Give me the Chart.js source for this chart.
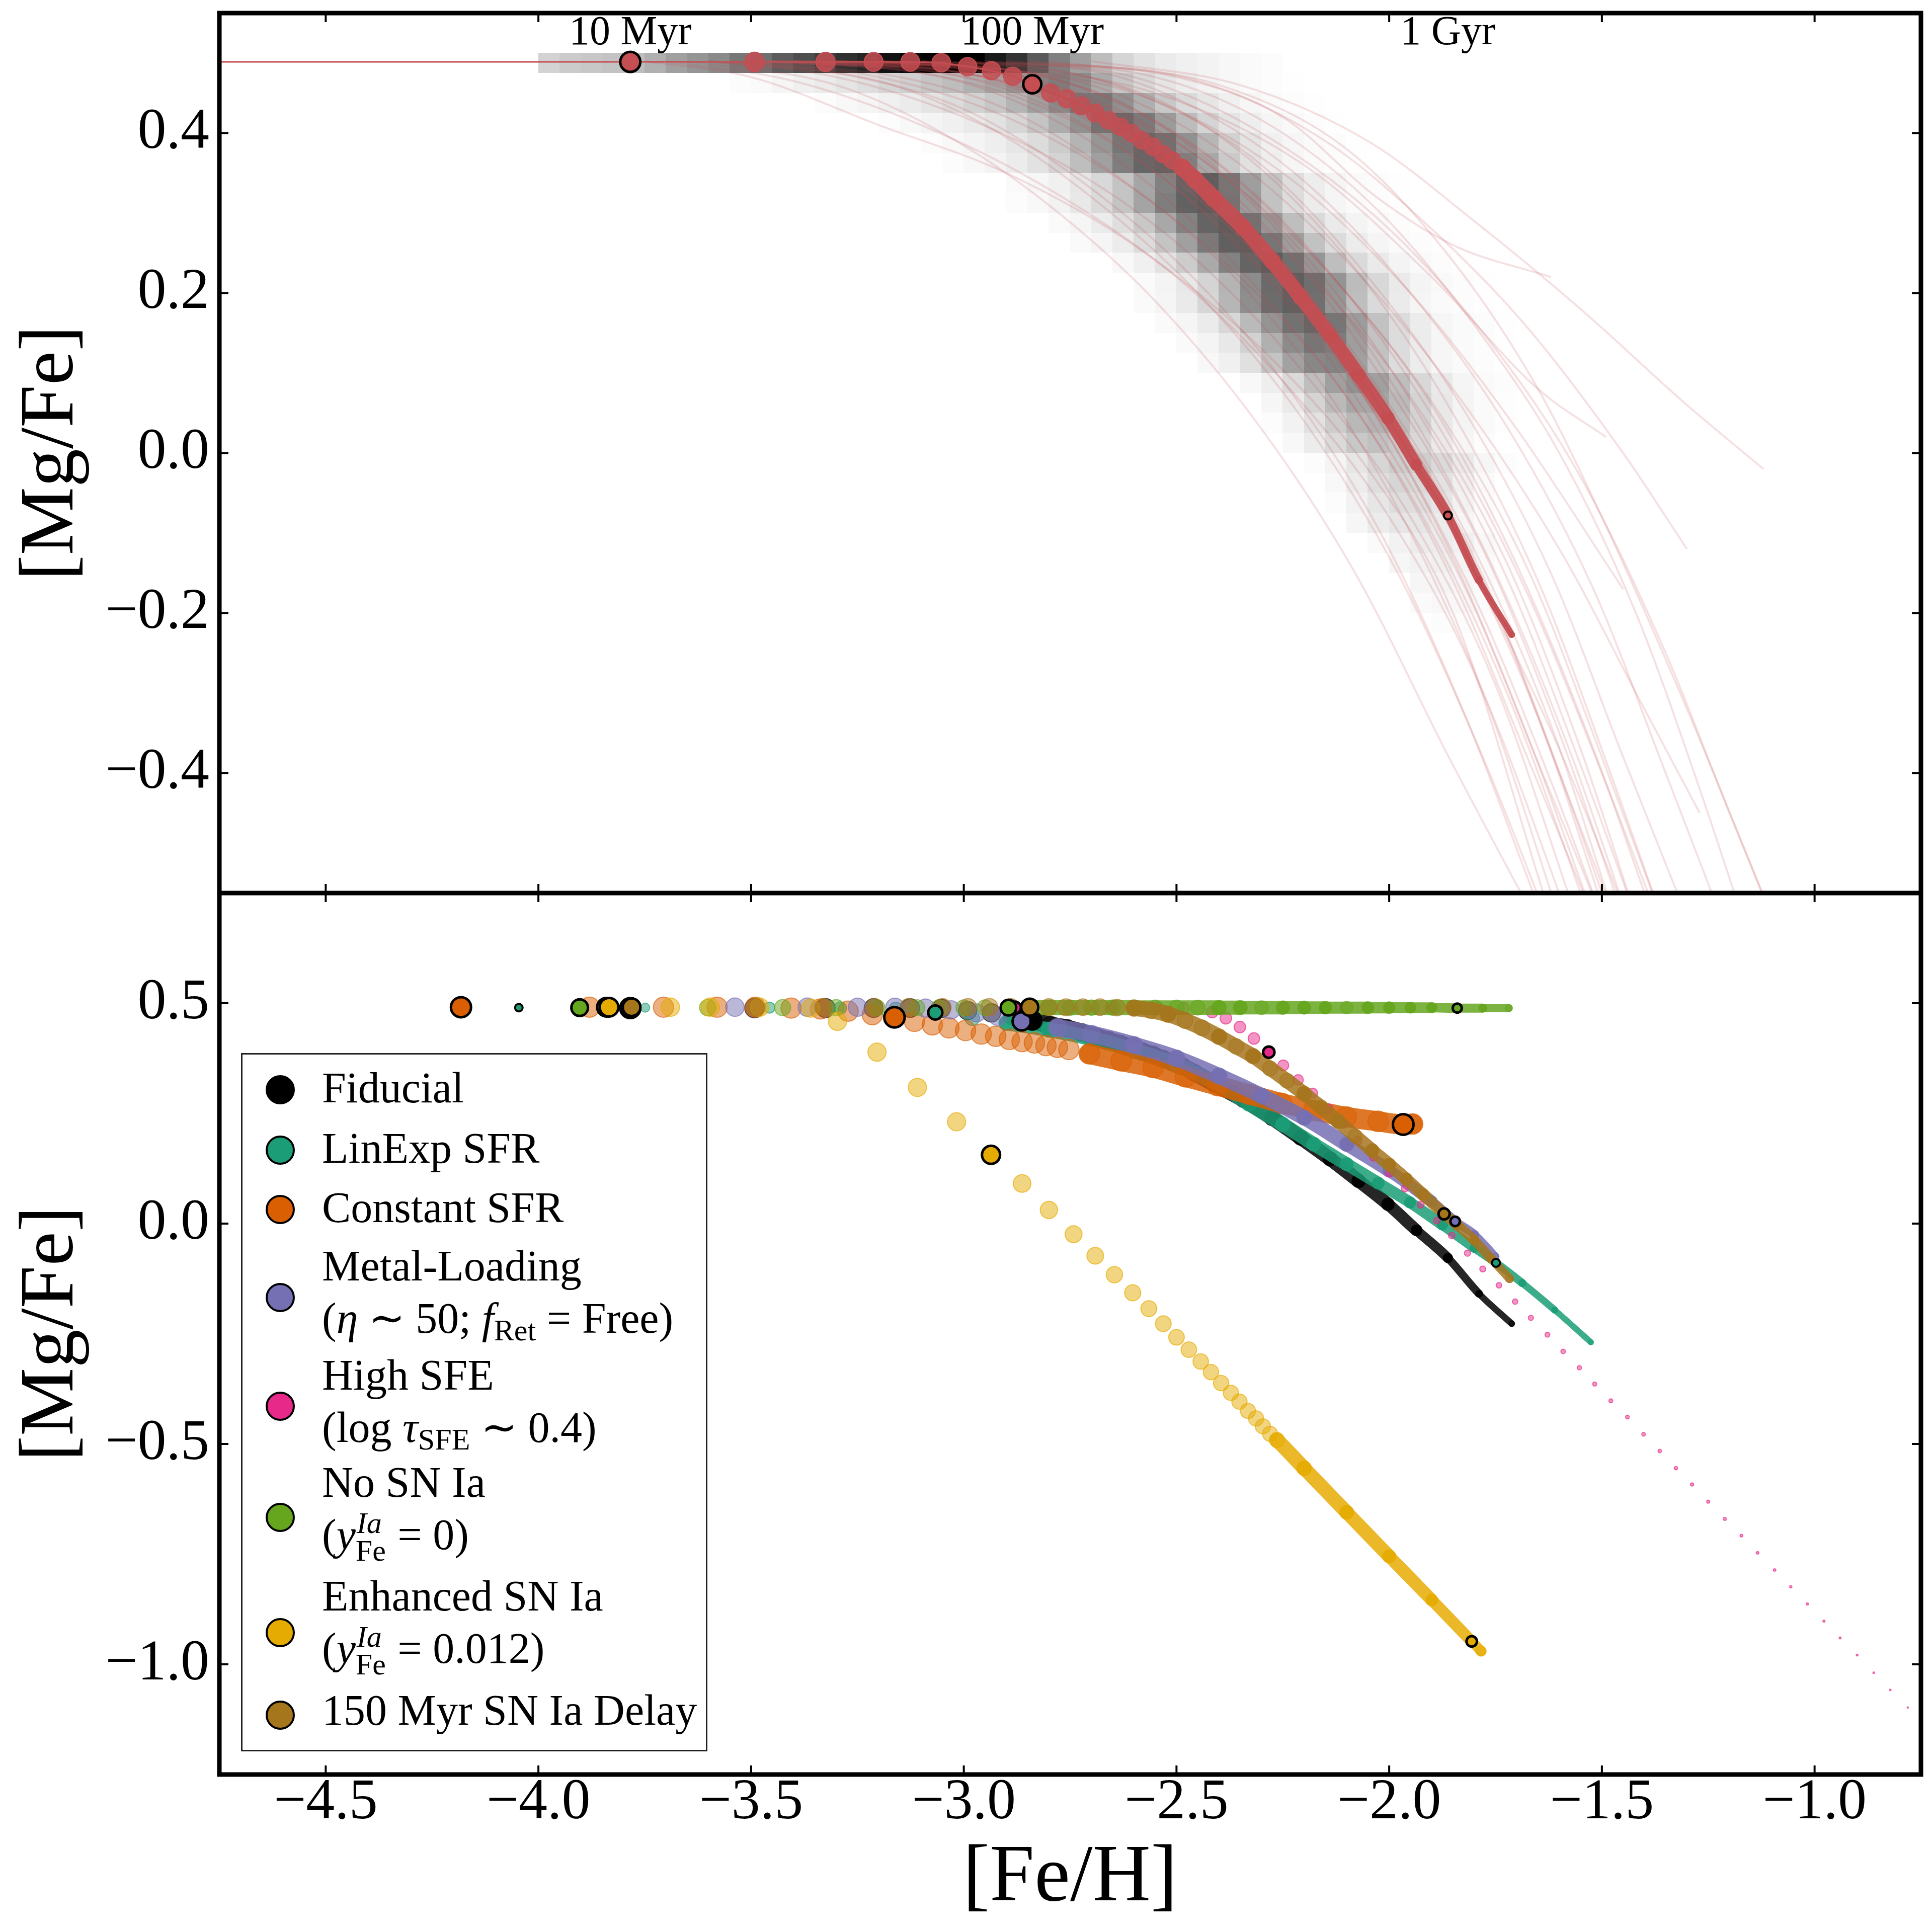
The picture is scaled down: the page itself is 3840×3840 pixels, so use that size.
<!DOCTYPE html>
<html>
<head>
<meta charset="utf-8">
<script src="https://cdn.jsdelivr.net/npm/chart.js@4.4.1/dist/chart.umd.min.js"></script>
<style>
  html, body { margin: 0; padding: 0; background: #fff; }
  #wrap { position: relative; width: 3840px; height: 3840px; background: #fff; overflow: hidden; }
  #topChart { position: absolute; left: 0; top: 0; }
  #bottomChart { position: absolute; left: 0; top: 1775px; }
  #legend { position: absolute; left: 479px; top: 2093px; width: 927px; height: 1388px; box-sizing: border-box;
            border: 3px solid #222; background: #fff; font-family: 'Liberation Serif', serif; font-size: 86px; color: #000; }
  #legend .mk { position: absolute; left: 46px; width: 50px; height: 50px; border: 4px solid #000; border-radius: 50%; }
  #legend .txt { position: absolute; left: 158px; line-height: 104px; white-space: nowrap; }
  #legend sub { font-size: 0.7em; vertical-align: -0.25em; line-height: 0; }
  #legend .ss { position: relative; display: inline-block; width: 62px; height: 1px; }
  #legend .ss .sup { position: absolute; left: 2px; bottom: 22px; font-size: 60px; line-height: 60px; font-style: italic; }
  #legend .ss .sub { position: absolute; left: 0; top: -26px; font-size: 60px; line-height: 60px; }
</style>
</head>
<body>
<div id="wrap">
  <canvas id="topChart" width="3840" height="1775"></canvas>
  <canvas id="bottomChart" width="3840" height="2065"></canvas>
  <div id="legend">
    <span class="mk" style="top:41px;background:#000000"></span>
    <div class="txt" style="top:14px">Fiducial</div>
    <span class="mk" style="top:161px;background:#1b9e77"></span>
    <div class="txt" style="top:134px">LinExp SFR</div>
    <span class="mk" style="top:279px;background:#d95f02"></span>
    <div class="txt" style="top:252px">Constant SFR</div>
    <span class="mk" style="top:454px;background:#7570b3"></span>
    <div class="txt" style="top:368px">Metal-Loading<br>(<i>η</i> ∼ 50; <i>f</i><sub>Ret</sub> = Free)</div>
    <span class="mk" style="top:670px;background:#e7298a"></span>
    <div class="txt" style="top:585px">High SFE<br>(log <i>τ</i><sub>SFE</sub> ∼ 0.4)</div>
    <span class="mk" style="top:891px;background:#66a61e"></span>
    <div class="txt" style="top:798px">No SN Ia<br>(<i>y</i><span class="ss"><span class="sup">Ia</span><span class="sub">Fe</span></span> = 0)</div>
    <span class="mk" style="top:1120px;background:#e6ab02"></span>
    <div class="txt" style="top:1024px">Enhanced SN Ia<br>(<i>y</i><span class="ss"><span class="sup">Ia</span><span class="sub">Fe</span></span> = 0.012)</div>
    <span class="mk" style="top:1284px;background:#a6761d"></span>
    <div class="txt" style="top:1251px">150 Myr SN Ia Delay</div>
  </div>
</div>
<script>
// ---------------- data ----------------
const xTickVals = [-4.5, -4.0, -3.5, -3.0, -2.5, -2.0, -1.5, -1.0];
const topYTickVals = [-0.4, -0.2, 0.0, 0.2, 0.4];
const botYTickVals = [-1.0, -0.5, 0.0, 0.5];

const ageLabels = ['10 Myr', '100 Myr', '1 Gyr'];

// fiducial track (red in top panel, black in bottom panel)
const fidFeH = [-4.75, -3.784, -3.492, -3.325, -3.212, -3.126, -3.053, -2.991, -2.935, -2.885, -2.839, -2.796, -2.758, -2.724, -2.691, -2.660, -2.632, -2.606, -2.581, -2.555, -2.532, -2.510, -2.487, -2.457, -2.412, -2.343, -2.275, -2.208, -2.139, -2.072, -2.003, -1.936, -1.862, -1.789, -1.712];
const fidMgFe = [0.489, 0.489, 0.489, 0.489, 0.489, 0.489, 0.488, 0.483, 0.478, 0.471, 0.461, 0.450, 0.443, 0.434, 0.425, 0.416, 0.408, 0.400, 0.391, 0.383, 0.374, 0.366, 0.357, 0.342, 0.318, 0.282, 0.240, 0.195, 0.147, 0.097, 0.044, -0.015, -0.078, -0.159, -0.227];
const fidMarkFeH = [-3.784, -2.839, -1.862];
const fidMarkMgFe = [0.489, 0.461, -0.078];

// posterior sample tracks (top panel, thin lines)
const fanPaths = [
  [[-3.75,0.49],[-3.5,0.47],[-3.2,0.41],[-2.9,0.35],[-2.6,0.26],[-2.3,0.13],[-2.05,-0.02],[-1.85,-0.2],[-1.62,-0.58]],
  [[-3.7,0.49],[-3.4,0.465],[-3.1,0.41],[-2.8,0.33],[-2.5,0.22],[-2.25,0.09],[-2.0,-0.08],[-1.78,-0.3],[-1.6,-0.58]],
  [[-3.6,0.49],[-3.3,0.47],[-3.0,0.42],[-2.7,0.34],[-2.45,0.24],[-2.2,0.1],[-1.95,-0.08],[-1.75,-0.29],[-1.56,-0.58]],
  [[-3.55,0.49],[-3.2,0.47],[-2.9,0.42],[-2.6,0.33],[-2.35,0.22],[-2.1,0.07],[-1.88,-0.12],[-1.7,-0.33],[-1.53,-0.58]],
  [[-3.5,0.49],[-3.1,0.475],[-2.85,0.44],[-2.6,0.37],[-2.35,0.26],[-2.1,0.1],[-1.85,-0.1],[-1.65,-0.33],[-1.49,-0.58]],
  [[-3.45,0.49],[-3.05,0.478],[-2.8,0.45],[-2.55,0.38],[-2.3,0.27],[-2.05,0.1],[-1.82,-0.1],[-1.62,-0.34],[-1.47,-0.58]],
  [[-3.4,0.49],[-3.0,0.48],[-2.75,0.45],[-2.5,0.38],[-2.25,0.26],[-2.0,0.08],[-1.78,-0.12],[-1.6,-0.35],[-1.45,-0.58]],
  [[-3.5,0.49],[-3.0,0.484],[-2.84,0.46],[-2.6,0.4],[-2.4,0.31],[-2.2,0.19],[-2.0,0.04],[-1.8,-0.15],[-1.6,-0.37],[-1.44,-0.58]],
  [[-3.3,0.49],[-2.9,0.48],[-2.65,0.44],[-2.4,0.36],[-2.15,0.23],[-1.9,0.06],[-1.7,-0.14],[-1.52,-0.37],[-1.38,-0.58]],
  [[-3.3,0.49],[-2.85,0.475],[-2.6,0.43],[-2.35,0.34],[-2.1,0.2],[-1.88,0.03],[-1.68,-0.17],[-1.5,-0.4],[-1.37,-0.58]],
  [[-3.2,0.49],[-2.8,0.48],[-2.55,0.44],[-2.3,0.36],[-2.05,0.22],[-1.82,0.05],[-1.62,-0.15],[-1.45,-0.38],[-1.3,-0.58]],
  [[-3.1,0.49],[-2.7,0.478],[-2.45,0.43],[-2.2,0.34],[-1.95,0.2],[-1.72,0.03],[-1.52,-0.17],[-1.35,-0.4],[-1.22,-0.58]],
  [[-3.0,0.49],[-2.6,0.47],[-2.3,0.4],[-2.0,0.28],[-1.75,0.13],[-1.55,-0.03],[-1.35,-0.25],[-1.2,-0.45],[-1.1,-0.58]],
  [[-2.9,0.49],[-2.5,0.47],[-2.25,0.42],[-2.03,0.32],[-1.85,0.26],[-1.62,0.22]],
  [[-3.0,0.49],[-2.55,0.45],[-2.2,0.36],[-1.9,0.22],[-1.65,0.08],[-1.49,0.02]],
  [[-3.1,0.49],[-2.6,0.45],[-2.25,0.35],[-1.95,0.2],[-1.7,0.03],[-1.45,-0.17]],
  [[-3.2,0.49],[-2.7,0.46],[-2.4,0.38],[-2.1,0.24],[-1.85,0.08],[-1.6,-0.12],[-1.4,-0.32],[-1.27,-0.45]],
  [[-3.4,0.49],[-2.95,0.47],[-2.7,0.42],[-2.45,0.33],[-2.2,0.2],[-1.97,0.03],[-1.77,-0.17],[-1.6,-0.4],[-1.47,-0.58]],
  [[-3.6,0.49],[-3.2,0.465],[-2.95,0.41],[-2.7,0.32],[-2.45,0.2],[-2.2,0.04],[-1.98,-0.15],[-1.78,-0.38],[-1.63,-0.58]],
  [[-3.65,0.49],[-3.3,0.46],[-3.05,0.4],[-2.8,0.31],[-2.55,0.19],[-2.3,0.03],[-2.08,-0.15],[-1.86,-0.38],[-1.66,-0.58]],
  [[-3.35,0.49],[-2.95,0.475],[-2.7,0.43],[-2.45,0.35],[-2.2,0.23],[-1.95,0.07],[-1.73,-0.13],[-1.55,-0.37],[-1.42,-0.58]],
  [[-3.25,0.49],[-2.85,0.47],[-2.6,0.42],[-2.35,0.33],[-2.1,0.2],[-1.87,0.04],[-1.67,-0.15],[-1.5,-0.38],[-1.36,-0.58]],
  [[-3.5,0.49],[-3.05,0.47],[-2.8,0.42],[-2.55,0.33],[-2.3,0.2],[-2.06,0.04],[-1.85,-0.16],[-1.66,-0.4],[-1.52,-0.58]],
  [[-3.45,0.49],[-3.0,0.47],[-2.75,0.42],[-2.5,0.33],[-2.26,0.2],[-2.03,0.03],[-1.82,-0.17],[-1.64,-0.4],[-1.5,-0.58]],
  [[-2.8,0.49],[-2.4,0.46],[-2.1,0.38],[-1.85,0.24],[-1.65,0.08],[-1.5,-0.08],[-1.3,-0.32],[-1.1,-0.58]],
  [[-2.7,0.49],[-2.35,0.46],[-2.05,0.39],[-1.8,0.29],[-1.55,0.18],[-1.3,0.06],[-1.12,-0.02]],
  [[-3.55,0.49],[-3.15,0.47],[-2.9,0.43],[-2.65,0.35],[-2.4,0.24],[-2.15,0.08],[-1.93,-0.12],[-1.74,-0.35],[-1.58,-0.58]],
  [[-3.4,0.49],[-3.0,0.475],[-2.75,0.43],[-2.5,0.35],[-2.25,0.23],[-2.02,0.07],[-1.8,-0.13],[-1.62,-0.37],[-1.48,-0.58]],
  [[-3.3,0.49],[-2.9,0.475],[-2.65,0.43],[-2.4,0.35],[-2.17,0.22],[-1.95,0.05],[-1.75,-0.15],[-1.57,-0.38],[-1.44,-0.58]],
  [[-3.2,0.49],[-2.85,0.475],[-2.6,0.43],[-2.37,0.34],[-2.14,0.21],[-1.92,0.04],[-1.72,-0.16],[-1.55,-0.39],[-1.42,-0.58]],
  [[-3.45,0.49],[-3.05,0.475],[-2.8,0.44],[-2.55,0.36],[-2.3,0.24],[-2.07,0.08],[-1.86,-0.12],[-1.67,-0.36],[-1.52,-0.58]],
  [[-3.15,0.49],[-2.75,0.475],[-2.5,0.43],[-2.27,0.34],[-2.05,0.21],[-1.84,0.04],[-1.65,-0.16],[-1.48,-0.4],[-1.36,-0.58]],
  [[-2.95,0.49],[-2.55,0.47],[-2.28,0.41],[-2.02,0.3],[-1.8,0.16],[-1.6,0.0],[-1.42,-0.2],[-1.27,-0.42],[-1.17,-0.58]],
  [[-2.85,0.49],[-2.45,0.465],[-2.15,0.39],[-1.9,0.28],[-1.68,0.16],[-1.45,0.0],[-1.3,-0.12]],
  [[-3.6,0.49],[-3.25,0.47],[-3.0,0.43],[-2.75,0.35],[-2.5,0.24],[-2.25,0.09],[-2.02,-0.1],[-1.82,-0.33],[-1.64,-0.58]],
  [[-3.35,0.49],[-2.95,0.47],[-2.7,0.42],[-2.45,0.32],[-2.22,0.19],[-2.0,0.02],[-1.8,-0.18],[-1.62,-0.41],[-1.5,-0.58]]
];

// 2D histogram behind the top panel: bins of 0.05 dex in [Fe/H], 0.025 dex in [Mg/Fe]
const heatFeH0 = -4.0, heatDFeH = 0.05, heatMgFe0 = 0.5, heatDMgFe = 0.025;
const heatRowStart = [0, 9, 13, 16, 18, 19, 22, 22, 24, 25, 27, 28, 28, 29, 30, 31, 33, 34, 34, 35, 36, 37, 37, 38, 39, 40, 41, 41, 42];
const heatRowGrey = [
  [211,203,199,195,190,176,160,149,138,119,111,92,78,64,48,38,18,10,5,0,0,26,51,90,128,160,189,213,226,235,240,243,247,250,252],
  [252,250,245,240,235,229,222,213,207,197,189,176,165,150,132,125,140,170,198,216,229,237,243,247,250,252,254],
  [252,248,245,240,235,228,220,210,198,180,160,138,118,120,145,175,200,218,230,240,246,250,252,254],
  [252,248,244,240,234,226,214,196,172,145,115,104,122,155,188,212,228,238,245,249,252,254],
  [252,248,244,238,230,220,204,180,150,118,102,112,145,182,210,228,240,246,250,252,254],
  [252,248,243,236,226,212,190,160,126,102,98,128,168,202,225,238,246,250,252,254],
  [250,246,240,230,216,196,166,130,100,94,118,158,196,222,237,245,250,252,254],
  [252,248,242,232,218,196,164,126,98,92,116,156,194,220,236,245,250,252,254],
  [250,245,236,222,200,168,130,100,92,114,152,190,218,234,244,249,252,254],
  [250,245,236,220,196,160,122,96,92,118,158,194,220,236,245,250,252,254],
  [248,240,226,204,170,130,100,92,112,150,190,218,234,244,249,252,254],
  [250,244,232,212,180,140,106,94,110,148,188,216,234,244,249,252,254],
  [250,245,234,214,182,142,108,96,112,150,190,218,235,245,250,252,254],
  [250,245,235,216,186,148,114,102,118,156,194,220,236,246,250,252,254],
  [250,244,232,210,176,140,118,124,158,194,220,236,246,250,252,254],
  [248,240,224,196,162,136,132,160,194,220,236,246,250,252,254],
  [248,238,218,190,160,146,160,190,216,234,245,250,252,254],
  [246,234,212,186,166,166,186,212,232,244,250,253],
  [252,242,226,204,184,178,190,212,232,244,250,253],
  [248,236,218,200,192,200,216,234,246,252],
  [252,244,230,214,204,206,218,234,246,252],
  [248,236,222,214,216,226,240,250],
  [252,242,230,222,222,230,242,251],
  [246,236,230,230,236,246,252],
  [250,242,236,236,240,248,253],
  [246,242,240,244,250,254],
  [246,244,246,250,254],
  [250,248,248,251,254],
  [252,252,253]
];

// bottom panel models
const linFeH = [-4.046, -3.749, -3.457, -3.29, -3.16, -3.067, -2.98, -2.90, -2.80, -2.70, -2.60, -2.50, -2.40, -2.33, -2.25, -2.177, -2.10, -2.026, -1.951, -1.875, -1.80, -1.749, -1.687, -1.611, -1.526];
const linMgFe = [0.490, 0.490, 0.490, 0.489, 0.487, 0.479, 0.466, 0.455, 0.440, 0.420, 0.393, 0.360, 0.315, 0.272, 0.225, 0.180, 0.135, 0.092, 0.048, -0.003, -0.055, -0.089, -0.135, -0.196, -0.269];
const linMarkFeH = [-4.046, -3.067, -1.749];
const linMarkMgFe = [0.490, 0.479, -0.089];

const conFeH = [-4.182, -3.88, -3.706, -3.58, -3.49, -3.406, -3.337, -3.272, -3.215, -3.163, -3.116, -3.074, -3.035, -2.996, -2.959, -2.925, -2.893, -2.863, -2.834, -2.807, -2.78, -2.753, -2.705, -2.63, -2.555, -2.479, -2.403, -2.328, -2.253, -2.177, -2.101, -2.026, -1.967, -1.945];
const conMgFe = [0.491, 0.491, 0.491, 0.491, 0.491, 0.489, 0.487, 0.482, 0.474, 0.468, 0.459, 0.451, 0.444, 0.438, 0.430, 0.425, 0.418, 0.413, 0.410, 0.404, 0.400, 0.395, 0.385, 0.369, 0.354, 0.333, 0.313, 0.293, 0.273, 0.257, 0.242, 0.232, 0.225, 0.226];
const conMarkFeH = [-4.182, -3.163, -1.967];
const conMarkMgFe = [0.491, 0.468, 0.225];

const metFeH = [-3.84, -3.538, -3.368, -3.25, -3.162, -3.09, -3.03, -2.97, -2.92, -2.864, -2.78, -2.70, -2.60, -2.50, -2.40, -2.30, -2.20, -2.10, -2.00, -1.90, -1.845, -1.80, -1.751];
const metMgFe = [0.491, 0.491, 0.491, 0.491, 0.491, 0.489, 0.485, 0.478, 0.470, 0.459, 0.445, 0.430, 0.405, 0.375, 0.335, 0.290, 0.240, 0.180, 0.120, 0.050, 0.005, -0.025, -0.075];
const metMarkFeH = [-3.84, -2.864, -1.845];
const metMarkMgFe = [0.491, 0.459, 0.005];

const sfeFeH = [-2.88, -2.653, -2.545, -2.484, -2.416, -2.384, -2.351, -2.318, -2.283, -2.249, -2.214, -2.18, -2.143, -2.109, -2.074, -2.037, -2.0, -1.963, -1.926, -1.888, -1.853, -1.816, -1.78, -1.742, -1.704, -1.667, -1.628, -1.591, -1.553, -1.517, -1.479, -1.44, -1.402, -1.364, -1.326, -1.288, -1.25, -1.211, -1.172, -1.134, -1.094, -1.056, -1.017, -0.978, -0.94, -0.90, -0.861, -0.822, -0.781];
const sfeMgFe = [0.490, 0.490, 0.490, 0.489, 0.480, 0.466, 0.446, 0.420, 0.389, 0.359, 0.326, 0.296, 0.261, 0.226, 0.188, 0.151, 0.114, 0.080, 0.043, 0.007, -0.027, -0.067, -0.103, -0.140, -0.177, -0.214, -0.252, -0.290, -0.327, -0.364, -0.402, -0.439, -0.478, -0.516, -0.555, -0.592, -0.631, -0.670, -0.708, -0.747, -0.786, -0.824, -0.863, -0.902, -0.940, -0.979, -1.019, -1.058, -1.098];
const sfeMarkFeH = [-2.88, -2.283];
const sfeMarkMgFe = [0.490, 0.389];

const noIaFeH = [-3.903, -3.602, -3.426, -3.30, -3.204, -3.11, -3.058, -3.0, -2.95, -2.895, -2.85, -2.80, -2.75, -2.70, -2.65, -2.60, -2.55, -2.50, -2.45, -2.40, -2.35, -2.30, -2.25, -2.20, -2.15, -2.10, -2.05, -2.00, -1.95, -1.90, -1.84, -1.78, -1.719];
const noIaMgFe = [0.490, 0.490, 0.490, 0.490, 0.490, 0.490, 0.490, 0.490, 0.490, 0.490, 0.490, 0.490, 0.490, 0.490, 0.490, 0.490, 0.490, 0.490, 0.490, 0.490, 0.490, 0.490, 0.490, 0.490, 0.490, 0.490, 0.490, 0.490, 0.490, 0.490, 0.489, 0.489, 0.489];
const noIaMarkFeH = [-3.903, -2.895, -1.84];
const noIaMarkMgFe = [0.490, 0.490, 0.489];

const enhFeH = [-3.834, -3.69, -3.596, -3.48, -3.36, -3.297, -3.204, -3.109, -3.017, -2.936, -2.863, -2.80, -2.742, -2.691, -2.646, -2.603, -2.565, -2.531, -2.50, -2.471, -2.443, -2.419, -2.395, -2.372, -2.352, -2.332, -2.313, -2.297, -2.28, -2.264, -2.2, -2.1, -2.0, -1.9, -1.806, -1.784];
const enhMgFe = [0.491, 0.491, 0.491, 0.491, 0.489, 0.459, 0.389, 0.309, 0.231, 0.156, 0.091, 0.031, -0.024, -0.073, -0.116, -0.157, -0.193, -0.227, -0.258, -0.286, -0.313, -0.337, -0.362, -0.384, -0.404, -0.425, -0.442, -0.460, -0.477, -0.491, -0.555, -0.655, -0.755, -0.854, -0.948, -0.970];
const enhMarkFeH = [-3.834, -2.936, -1.806];
const enhMarkMgFe = [0.491, 0.156, -0.948];

const delFeH = [-3.781, -3.49, -3.33, -3.21, -3.13, -3.05, -2.99, -2.94, -2.89, -2.845, -2.80, -2.76, -2.72, -2.68, -2.64, -2.60, -2.56, -2.52, -2.48, -2.44, -2.40, -2.36, -2.32, -2.28, -2.24, -2.20, -2.16, -2.12, -2.08, -2.04, -2.00, -1.96, -1.92, -1.871, -1.84, -1.80, -1.76, -1.717];
const delMgFe = [0.491, 0.491, 0.491, 0.491, 0.491, 0.491, 0.491, 0.491, 0.491, 0.491, 0.491, 0.491, 0.491, 0.491, 0.490, 0.489, 0.484, 0.475, 0.461, 0.444, 0.424, 0.402, 0.380, 0.352, 0.324, 0.295, 0.264, 0.232, 0.199, 0.166, 0.134, 0.101, 0.066, 0.022, -0.003, -0.038, -0.080, -0.125];
const delMarkFeH = [-3.781, -2.845, -1.871];
const delMarkMgFe = [0.491, 0.491, 0.022];

// ---------------- styles ----------------
const RED = [196, 78, 82];
const ageLabelMgFe = 0.511;
// marker radius (px) along each track, as [Fe/H] -> radius knots
const fidKnots = [[-3.8,20],[-2.84,18],[-2.5,17],[-2.2,15],[-2.0,12.5],[-1.86,8],[-1.71,5.5]];

const models = [
  {feh: fidFeH, mgfe: fidMgFe, mx: fidMarkFeH, my: fidMarkMgFe, color: [0,0,0], knots: fidKnots, dotFrom: 1, bandFrom: 10},
  {feh: linFeH, mgfe: linMgFe, mx: linMarkFeH, my: linMarkMgFe, color: [27,158,119], knots: [[-4.05,7.5],[-3.75,9],[-3.46,11],[-3.07,14],[-2.6,16],[-2.2,14],[-1.9,10.5],[-1.75,8],[-1.53,5]], dotFrom: 0, bandFrom: 7},
  {feh: conFeH, mgfe: conMgFe, mx: conMarkFeH, my: conMarkMgFe, color: [217,95,2], knots: [[-4.2,20],[-1.95,20.5]], dotFrom: 0, bandFrom: 22},
  {feh: metFeH, mgfe: metMgFe, mx: metMarkFeH, my: metMarkMgFe, color: [117,112,179], knots: [[-3.84,18.5],[-2.86,18],[-2.5,16.5],[-2.1,14],[-1.85,9.5],[-1.75,7.5]], dotFrom: 0, bandFrom: 10},
  {feh: sfeFeH, mgfe: sfeMgFe, mx: sfeMarkFeH, my: sfeMarkMgFe, color: [231,41,138], knots: [[-2.88,12],[-2.3,11.5],[-2.0,7.5],[-1.5,4],[-1.0,2.2],[-0.78,1.4]], dotFrom: 0, bandFrom: 999},
  {feh: noIaFeH, mgfe: noIaMgFe, mx: noIaMarkFeH, my: noIaMarkMgFe, color: [102,166,30], knots: [[-3.9,16.5],[-2.9,15.5],[-2.5,15],[-2.0,11.5],[-1.84,9],[-1.72,7]], dotFrom: 0, bandFrom: 10},
  {feh: enhFeH, mgfe: enhMgFe, mx: enhMarkFeH, my: enhMarkMgFe, color: [230,171,2], knots: [[-3.83,18.5],[-2.94,18],[-2.5,15.5],[-2.26,15],[-2.0,13],[-1.78,10]], dotFrom: 0, bandFrom: 29},
  {feh: delFeH, mgfe: delMgFe, mx: delMarkFeH, my: delMarkMgFe, color: [166,118,29], knots: [[-3.78,17.5],[-2.85,17],[-2.5,16],[-2.1,14],[-1.87,11],[-1.72,8]], dotFrom: 0, bandFrom: 15}
];

// ---------------- helpers ----------------
Chart.defaults.font.family = "'Liberation Serif', 'DejaVu Serif', serif";
Chart.defaults.color = '#000';

function pts(xs, ys) { return xs.map((x, i) => ({x: x, y: ys[i]})); }
function rgba(c, a) { return 'rgba(' + c[0] + ',' + c[1] + ',' + c[2] + ',' + a + ')'; }
function fmt(v) { return (v < -1e-9 ? '\u2212' : '') + Math.abs(v).toFixed(1); }
function knotRadius(knots, x) {
  if (x <= knots[0][0]) return knots[0][1];
  for (let i = 1; i < knots.length; i++) {
    if (x <= knots[i][0]) {
      const [x0, r0] = knots[i - 1], [x1, r1] = knots[i];
      return r0 + (r1 - r0) * (x - x0) / (x1 - x0);
    }
  }
  return knots[knots.length - 1][1];
}

// a track: a thick band for the dense part, translucent dots, outlined age markers
function trackSets(m, color, dotAlpha, bandAlpha, order, markOrder) {
  const data = pts(m.feh, m.mgfe);
  return [
    {
      type: 'line', data: data, order: order + 1, clip: 0,
      pointRadius: 0, borderWidth: 1, borderColor: rgba(color, bandAlpha),
      cubicInterpolationMode: 'monotone', borderCapStyle: 'round',
      segment: {
        borderColor: c => c.p0DataIndex >= m.bandFrom ? rgba(color, bandAlpha) : 'rgba(0,0,0,0)',
        borderWidth: c => Math.max(1, Math.round(1.95 * knotRadius(m.knots, data[c.p0DataIndex].x)))
      }
    },
    {
      type: 'scatter', data: data, order: order, clip: 0,
      pointRadius: c => c.dataIndex < m.dotFrom ? 0 : knotRadius(m.knots, c.raw.x),
      pointBackgroundColor: rgba(color, dotAlpha),
      pointBorderColor: rgba(color, Math.min(1, dotAlpha + 0.15)),
      pointBorderWidth: 2
    },
    {
      type: 'scatter', data: pts(m.mx, m.my), order: markOrder, clip: 0,
      pointRadius: c => knotRadius(m.knots, c.raw.x),
      pointBackgroundColor: rgba(color, 1),
      pointBorderColor: '#000',
      pointBorderWidth: c => knotRadius(m.knots, c.raw.x) < 9 ? 4 : 5
    }
  ];
}

// ---------------- plugins ----------------
const framePlugin = {
  id: 'frame',
  afterDraw(chart, args, opts) {
    const {ctx, chartArea: a, scales: {x, y}} = chart;
    const L = 18;
    ctx.save();
    ctx.strokeStyle = '#000';
    ctx.lineWidth = 4;
    ctx.beginPath();
    opts.xTicks.forEach(v => {
      const px = x.getPixelForValue(v);
      ctx.moveTo(px, a.bottom); ctx.lineTo(px, a.bottom - L);
      ctx.moveTo(px, a.top); ctx.lineTo(px, a.top + L);
    });
    opts.yTicks.forEach(v => {
      const py = y.getPixelForValue(v);
      ctx.moveTo(a.left, py); ctx.lineTo(a.left + L, py);
      ctx.moveTo(a.right, py); ctx.lineTo(a.right - L, py);
    });
    ctx.stroke();
    ctx.lineWidth = 9;
    ctx.strokeRect(a.left, a.top, a.right - a.left, a.bottom - a.top);
    ctx.restore();
  }
};

const heatPlugin = {
  id: 'heat',
  beforeDatasetsDraw(chart) {
    const {ctx, chartArea: a, scales: {x, y}} = chart;
    ctx.save();
    ctx.beginPath();
    ctx.rect(a.left, a.top, a.right - a.left, a.bottom - a.top);
    ctx.clip();
    heatRowGrey.forEach((row, r) => {
      const y0 = Math.floor(y.getPixelForValue(heatMgFe0 - r * heatDMgFe));
      const y1 = Math.floor(y.getPixelForValue(heatMgFe0 - (r + 1) * heatDMgFe));
      row.forEach((g, j) => {
        if (g >= 255) return;
        const col = heatRowStart[r] + j;
        const x0 = Math.floor(x.getPixelForValue(heatFeH0 + col * heatDFeH));
        const x1 = Math.floor(x.getPixelForValue(heatFeH0 + (col + 1) * heatDFeH));
        ctx.fillStyle = 'rgb(' + g + ',' + g + ',' + g + ')';
        ctx.fillRect(x0, y0, x1 - x0, y1 - y0);
      });
    });
    ctx.restore();
  }
};

const agePlugin = {
  id: 'ages',
  afterDatasetsDraw(chart) {
    const {ctx, scales: {x, y}} = chart;
    ctx.save();
    ctx.font = "82px 'Liberation Serif'";
    ctx.fillStyle = '#000';
    ctx.textAlign = 'center';
    ctx.textBaseline = 'alphabetic';
    ageLabels.forEach((t, i) => ctx.fillText(t, x.getPixelForValue(fidMarkFeH[i]), y.getPixelForValue(ageLabelMgFe)));
    ctx.restore();
  }
};

// ---------------- scales ----------------
function xScale(showLabels) {
  return {
    type: 'linear', min: -4.75, max: -0.75, display: showLabels,
    grid: {display: false, drawTicks: false}, border: {display: false},
    afterBuildTicks: s => { s.ticks = xTickVals.map(v => ({value: v})); },
    afterFit: s => { s.height = showLabels ? 313 : 0; s.paddingLeft = 0; s.paddingRight = 0; },
    ticks: {padding: 0, font: {size: 114, lineHeight: 1}, callback: v => fmt(v), maxRotation: 0, autoSkip: false},
    title: {display: showLabels, text: '[Fe/H]', font: {size: 160, lineHeight: 1.2}, padding: {top: 0, bottom: 9}}
  };
}
function yScale(min, max, vals) {
  return {
    type: 'linear', min: min, max: max,
    grid: {display: false, drawTicks: false}, border: {display: false},
    afterBuildTicks: s => { s.ticks = vals.map(v => ({value: v})); },
    afterFit: s => { s.width = 436; s.paddingTop = 0; s.paddingBottom = 0; },
    ticks: {padding: 20, font: {size: 114, lineHeight: 1}, callback: v => fmt(v), autoSkip: false},
    title: {display: true, text: '[Mg/Fe]', font: {size: 152, lineHeight: 1.2}, padding: {top: 13, bottom: 0}}
  };
}
const common = {
  responsive: false, animation: false, devicePixelRatio: 1, events: [],
  plugins: {legend: {display: false}, tooltip: {enabled: false}}
};

// ---------------- top panel ----------------
const topSets = [];
fanPaths.forEach(p => topSets.push({
  type: 'line', data: p.map(([x, y]) => ({x: x, y: y})), order: 400, clip: 0,
  borderColor: rgba(RED, 0.17), borderWidth: 4, pointRadius: 0, cubicInterpolationMode: 'monotone'
}));
topSets.push({type: 'line', data: pts(fidFeH, fidMgFe), order: 390, clip: 0,
  borderColor: rgba(RED, 1), borderWidth: 3, pointRadius: 0});
const redModel = {feh: fidFeH, mgfe: fidMgFe, mx: fidMarkFeH, my: fidMarkMgFe, knots: fidKnots, dotFrom: 1, bandFrom: 22};
trackSets(redModel, RED, 0.85, 0.95, 300, 10).forEach(d => topSets.push(d));

new Chart(document.getElementById('topChart'), {
  type: 'scatter',
  data: {datasets: topSets},
  options: Object.assign({}, common, {
    layout: {autoPadding: false, padding: {top: 26, right: 22, bottom: 0, left: 0}},
    scales: {x: xScale(false), y: yScale(-0.55, 0.55, topYTickVals)},
    plugins: Object.assign({}, common.plugins, {frame: {xTicks: xTickVals, yTicks: topYTickVals}})
  }),
  plugins: [heatPlugin, agePlugin, framePlugin]
});

// ---------------- bottom panel ----------------
const botSets = [];
models.forEach((m, k) => {
  trackSets(m, m.color, 0.5, 0.85, 200 - 2 * k, 20 - k).forEach(d => botSets.push(d));
});

new Chart(document.getElementById('bottomChart'), {
  type: 'scatter',
  data: {datasets: botSets},
  options: Object.assign({}, common, {
    layout: {autoPadding: false, padding: {top: 0, right: 22, bottom: 0, left: 0}},
    scales: {x: xScale(true), y: yScale(-1.25, 0.75, botYTickVals)},
    plugins: Object.assign({}, common.plugins, {frame: {xTicks: xTickVals, yTicks: botYTickVals}})
  }),
  plugins: [framePlugin]
});
</script>
</body>
</html>
